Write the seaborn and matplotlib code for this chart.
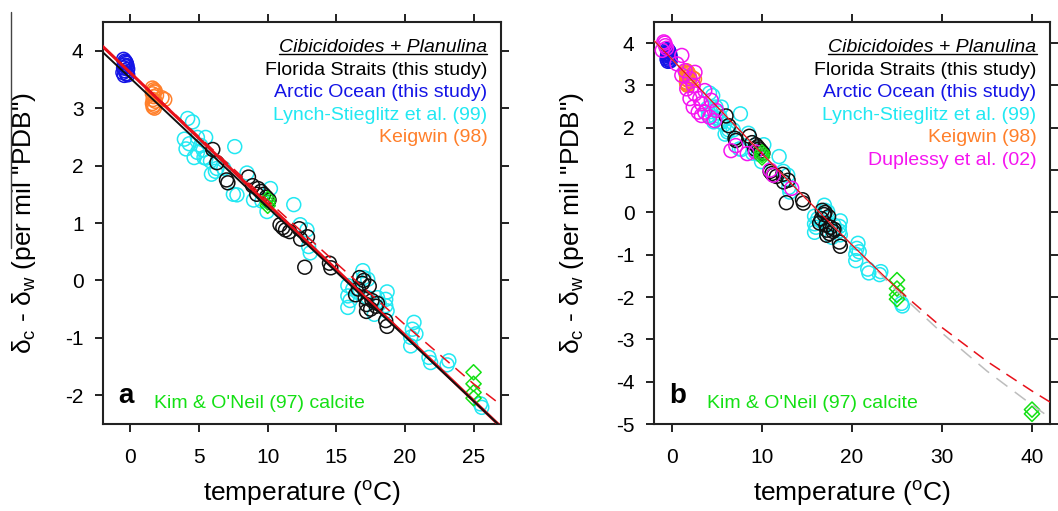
import matplotlib
matplotlib.use("Agg")
import matplotlib.pyplot as plt
from matplotlib.lines import Line2D
import seaborn as sns

# ---------------- data: temperature (deg C) vs d18O calcite - water (per mil) ----------------
florida_T = [6.0, 6.3, 7.0, 7.1, 8.6, 8.9, 9.3, 9.5, 9.7, 9.9, 10.1, 9.2, 10.9, 11.1, 11.3,
             11.6, 12.3, 12.4, 12.9, 12.7, 14.5, 14.6, 16.4, 16.6, 16.7, 16.9, 17.0, 17.1,
             17.2, 17.2, 17.4, 17.6, 17.9, 18.0, 18.6, 18.7, 17.5]
florida_d = [2.28, 2.05, 1.75, 1.70, 1.80, 1.65, 1.60, 1.55, 1.50, 1.45, 1.40, 1.50, 0.97, 0.92, 0.88,
             0.85, 0.90, 0.72, 0.76, 0.23, 0.30, 0.22, -0.25, -0.15, 0.05, -0.05, 0.00, -0.30,
             -0.42, -0.54, -0.10, -0.35, -0.45, -0.40, -0.70, -0.80, -0.50]

arctic_T = [-0.5, -0.4, -0.3, -0.45, -0.3, -0.5, -0.2, -0.4, -0.55, -0.3, -0.2, -0.45, -0.35, -0.25]
arctic_d = [3.85, 3.82, 3.78, 3.75, 3.72, 3.70, 3.68, 3.65, 3.62, 3.60, 3.58, 3.57, 3.80, 3.74]

lynch_T = [4.17, 4.52, 3.93, 4.29, 4.05, 4.88, 5.12, 5.48, 4.88, 5.36, 4.64, 5.83, 7.6, 5.3, 5.5,
           6.19, 6.8, 7.5, 7.76, 8.97, 9.58, 9.95, 8.49, 10.2, 11.9, 12.37, 12.86, 12.98, 13.1,
           5.9, 6.3,
           16.93, 15.84, 15.84, 15.84, 16.57, 17.29, 18.0, 18.6, 18.6, 18.7, 17.77, 18.13, 17.29,
           16.2, 16.0, 17.0, 18.7,
           20.66, 20.54, 20.42, 20.42, 20.8, 21.75, 21.87, 23.2, 23.07, 25.5, 25.6]
lynch_d = [2.82, 2.76, 2.46, 2.38, 2.29, 2.49, 2.35, 2.49, 2.23, 2.14, 2.14, 2.08, 2.33, 2.27, 2.13,
           1.90, 1.95, 1.50, 1.49, 1.40, 1.38, 1.20, 1.87, 1.60, 1.32, 0.97, 0.88, 0.59, 0.48,
           1.85, 1.95,
           0.17, -0.09, -0.27, -0.47, -0.21, -0.30, -0.30, -0.33, -0.44, -0.53, -0.59, -0.41, 0.02,
           -0.15, -0.35, 0.05, -0.20,
           -0.73, -0.85, -0.99, -1.14, -0.93, -1.34, -1.43, -1.40, -1.47, -2.15, -2.21]

keigwin_T = [1.6, 1.7, 1.75, 1.6, 1.7, 1.65, 1.8, 1.6, 1.7, 1.75, 1.65, 2.3, 2.5, 1.9, 1.8]
keigwin_d = [3.35, 3.32, 3.28, 3.25, 3.20, 3.15, 3.12, 3.08, 3.05, 3.00, 3.02, 3.18, 3.15, 3.22, 3.30]

duplessy_T = [-0.91, -0.73, -1.09, -0.8, -0.6, 1.09, 0.55, 1.45, 1.09, 2.0, 2.36, 2.55, 1.64, 2.55,
              3.09, 3.27, 2.36, 2.91, 3.64, 4.18, 4.73, 3.64, 4.36, 4.91, 2.0, 3.27, 7.09, 6.55,
              8.36, 9.27, 10.9, 11.26, 13.3]
duplessy_d = [4.03, 3.94, 3.83, 4.00, 3.88, 3.71, 3.51, 3.35, 3.24, 3.16, 3.00, 3.31, 2.92, 2.80,
              2.69, 2.57, 2.49, 2.37, 2.37, 2.25, 2.17, 2.88, 2.65, 2.41, 2.69, 2.29, 1.58, 1.46,
              1.39, 1.43, 1.00, 0.88, 0.57]

kim_T = [10, 10, 10, 25, 25, 25, 25, 40, 40]
kim_d = [1.42, 1.36, 1.30, -1.60, -1.80, -1.95, -2.05, -4.66, -4.76]

# linear regressions (panel a)
linfit_T = [-2, 27]
black_fit_d = [3.97, -2.55]
red_fit_d = [4.07, -2.55]

# curved calibration (red) and extrapolated curve (grey)
curve_T = [-2, 0, 5, 10, 15, 20, 25, 30, 35, 40, 42]
red_curve_d = [4.06, 3.62, 2.50, 1.39, 0.30, -0.77, -1.80, -2.72, -3.52, -4.22, -4.48]
grey_curve_d = [4.06, 3.62, 2.50, 1.39, 0.30, -0.77, -1.86, -2.85, -3.75, -4.55, -4.85]

legend_labels = ["Cibicidoides + Planulina", "Florida Straits (this study)",
                 "Arctic Ocean (this study)", "Lynch-Stieglitz et al. (99)",
                 "Keigwin (98)", "Duplessy et al. (02)"]
kim_label = "Kim & O'Neil (97) calcite"

# ---------------- style ----------------
sns.set_style("ticks")
plt.rcParams["font.family"] = ["Liberation Sans", "DejaVu Sans"]
plt.rcParams["mathtext.fontset"] = "custom"
plt.rcParams["mathtext.rm"] = "Liberation Sans"
plt.rcParams["mathtext.it"] = "Liberation Sans:italic"
plt.rcParams["mathtext.bf"] = "Liberation Sans:bold"
plt.rcParams["axes.unicode_minus"] = False
plt.rcParams["text.color"] = "#000000"
plt.rcParams["axes.labelcolor"] = "#000000"
plt.rcParams["xtick.labelcolor"] = "#000000"
plt.rcParams["ytick.labelcolor"] = "#000000"

BLACK = "#111111"
BLUE = "#1414e6"
CYAN = "#22e8f2"
ORANGE = "#ff7f2a"
MAGENTA = "#f514f0"
GREEN = "#14e014"
RED = "#e8101a"
GREY = "#bdbdbd"
legend_colors = ["#000000", "#000000", BLUE, CYAN, ORANGE, MAGENTA]

W, H = 1058, 511
fig = plt.figure(figsize=(W / 100, H / 100), dpi=100)
ax_a = fig.add_axes([103 / W, 1 - 424 / H, 398 / W, 402 / H])
ax_b = fig.add_axes([654 / W, 1 - 424 / H, 396 / W, 402 / H])


def open_marks(ax, T, d, col, marker="o", s=100):
    sns.scatterplot(x=T, y=d, ax=ax, marker=marker, s=s, color=col,
                    facecolor="none", edgecolor=col, linewidth=1.1,
                    legend=False, zorder=3)


def curve(ax, T, d, col, lw, ls="-"):
    sns.lineplot(x=T, y=d, ax=ax, color=col, lw=lw, linestyle=ls,
                 estimator=None, sort=False, legend=False, zorder=4)


# ---- panel a ----
open_marks(ax_a, lynch_T, lynch_d, CYAN)
open_marks(ax_a, florida_T, florida_d, BLACK)
open_marks(ax_a, arctic_T, arctic_d, BLUE)
open_marks(ax_a, keigwin_T, keigwin_d, ORANGE)
open_marks(ax_a, kim_T, kim_d, GREEN, marker="D", s=60)
curve(ax_a, curve_T, red_curve_d, RED, 1.1, (0, (8, 5)))
curve(ax_a, linfit_T, red_fit_d, RED, 2.2)
curve(ax_a, linfit_T, black_fit_d, BLACK, 1.4)

# ---- panel b ----
open_marks(ax_b, lynch_T, lynch_d, CYAN)
open_marks(ax_b, florida_T, florida_d, BLACK)
open_marks(ax_b, arctic_T, arctic_d, BLUE)
open_marks(ax_b, keigwin_T, keigwin_d, ORANGE)
open_marks(ax_b, duplessy_T, duplessy_d, MAGENTA)
open_marks(ax_b, kim_T, kim_d, GREEN, marker="D", s=60)
curve(ax_b, curve_T, grey_curve_d, GREY, 1.1, (0, (9, 6)))
solid = [i for i, t in enumerate(curve_T) if t <= 25]
dashed = [i for i, t in enumerate(curve_T) if t >= 25]
curve(ax_b, [curve_T[i] for i in solid], [red_curve_d[i] for i in solid], RED, 0.9)
curve(ax_b, [curve_T[i] for i in dashed], [red_curve_d[i] for i in dashed], RED, 1.1, (0, (8, 5)))

ax_a.set_xlim(-2, 27)
ax_a.set_ylim(-2.5, 4.5)
ax_a.set_xticks([0, 5, 10, 15, 20, 25])
ax_a.set_yticks([-2, -1, 0, 1, 2, 3, 4])
ax_b.set_xlim(-2, 42)
ax_b.set_ylim(-5, 4.5)
ax_b.set_xticks([0, 10, 20, 30, 40])
ax_b.set_yticks([-5, -4, -3, -2, -1, 0, 1, 2, 3, 4])

ylabel = 'δ$_\\mathregular{c}$ - δ$_\\mathregular{w}$ (per mil "PDB")'
xlabel = 'temperature ($^\\mathregular{o}$C)'

for ax, tag, n_leg, ylab_x in [(ax_a, "a", 5, -0.163), (ax_b, "b", 6, -0.172)]:
    for sp in ax.spines.values():
        sp.set_visible(True)
        sp.set_linewidth(1.5)
        sp.set_color("#222222")
    ax.tick_params(axis="both", direction="out", length=6, width=1.4, color="#222222",
                   labelsize=15, labelcolor="#000000", top=True, right=True,
                   labeltop=False, labelright=False)
    ax.tick_params(axis="x", pad=11)
    ax.tick_params(axis="y", pad=8)
    ax.set_xlabel(xlabel, fontsize=19, color="#000000")
    ax.set_ylabel(ylabel, fontsize=19, color="#000000")
    ax.xaxis.set_label_coords(0.5, -0.137)
    ax.yaxis.set_label_coords(ylab_x, 0.5)

    ys = [0.926, 0.868, 0.813, 0.757, 0.701, 0.645]
    for i in range(n_leg):
        t = ax.text(0.966, ys[i], legend_labels[i], transform=ax.transAxes, ha="right",
                    va="baseline", fontsize=14, color=legend_colors[i],
                    style="italic" if i == 0 else "normal", zorder=6)
        if i == 0:
            head = t
    ax.text(0.038, 0.052, tag, transform=ax.transAxes, ha="left", va="baseline",
            fontsize=20, fontweight="bold", color="#000000")
    ax.text(0.128 if tag == "a" else 0.134, 0.039, kim_label, transform=ax.transAxes,
            ha="left", va="baseline", fontsize=14, color=GREEN)

    # underline the heading
    fig.canvas.draw()
    bb = head.get_window_extent().transformed(ax.transAxes.inverted())
    ax.add_line(Line2D([bb.x0, bb.x1], [0.926 - 0.006, 0.926 - 0.006], transform=ax.transAxes,
                       color="#000000", lw=1.0, clip_on=False))

# thin rule at the left margin
fig.add_artist(Line2D([11 / W, 11 / W], [1 - 12 / H, 1 - 248 / H], color="#444444", lw=1.0))

fig.savefig("out.png", dpi=100)
